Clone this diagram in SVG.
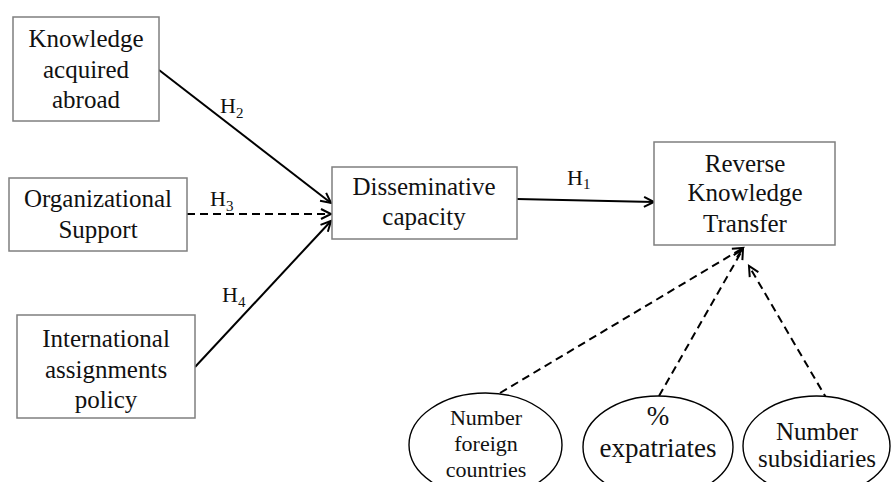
<svg xmlns="http://www.w3.org/2000/svg" width="891" height="482" viewBox="0 0 891 482">
<defs>
<marker id="arr" markerUnits="userSpaceOnUse" markerWidth="14" markerHeight="14" refX="11" refY="6" orient="auto" viewBox="0 0 14 12">
<path d="M1,1 L11,6 L1,11" fill="none" stroke="#000" stroke-width="2"/>
</marker>
</defs>
<style>
.box{fill:#fff;stroke:#7f7f7f;stroke-width:1.5}
.ell{fill:#fff;stroke:#000;stroke-width:1.4}
.t{font-family:"Liberation Serif","Times New Roman",serif;font-size:25px;fill:#111;text-anchor:middle}
.te{font-family:"Liberation Serif","Times New Roman",serif;font-size:22px;fill:#111;text-anchor:middle}
.tx{font-family:"Liberation Serif","Times New Roman",serif;font-size:27px;fill:#111;text-anchor:middle}
.h{font-family:"Liberation Serif","Times New Roman",serif;font-size:22px;fill:#111}
.s{font-size:15px}
.ln{stroke:#000;stroke-width:2;fill:none}
.dl{stroke:#000;stroke-width:2;fill:none;stroke-dasharray:8 5}
</style>
<g id="connectors">
<line class="ln" x1="159" y1="70" x2="331" y2="203" marker-end="url(#arr)"/>
<line class="dl" x1="187" y1="214" x2="331" y2="214" marker-end="url(#arr)"/>
<line class="ln" x1="195" y1="367" x2="331" y2="221" marker-end="url(#arr)"/>
<line class="ln" x1="517" y1="199" x2="654" y2="202" marker-end="url(#arr)"/>
<line class="dl" x1="500" y1="393" x2="743" y2="248" marker-end="url(#arr)"/>
<line class="dl" x1="659" y1="396" x2="743" y2="249" marker-end="url(#arr)"/>
<line class="dl" x1="828" y1="401" x2="749" y2="266" marker-end="url(#arr)"/>
<text class="h" x="220" y="113">H<tspan class="s" dy="5">2</tspan></text>
<text class="h" x="210" y="206">H<tspan class="s" dy="5">3</tspan></text>
<text class="h" x="222" y="302">H<tspan class="s" dy="5">4</tspan></text>
<text class="h" x="567" y="185">H<tspan class="s" dy="4">1</tspan></text>
</g>
<g id="knowledge">
<rect class="box" x="13" y="17" width="146" height="104"/>
<text class="t" x="86" y="47">Knowledge</text>
<text class="t" x="86" y="78">acquired</text>
<text class="t" x="86" y="108">abroad</text>
</g>
<g id="orgsupport">
<rect class="box" x="9" y="178" width="178" height="73"/>
<text class="t" x="98" y="207">Organizational</text>
<text class="t" x="98" y="238">Support</text>
</g>
<g id="intl">
<rect class="box" x="17" y="315" width="178" height="103"/>
<text class="t" x="106" y="347">International</text>
<text class="t" x="106" y="378">assignments</text>
<text class="t" x="106" y="408">policy</text>
</g>
<g id="dissem">
<rect class="box" x="332" y="167" width="185" height="72"/>
<text class="t" x="424" y="195">Disseminative</text>
<text class="t" x="424" y="225">capacity</text>
</g>
<g id="rkt">
<rect class="box" x="654" y="142" width="181" height="103"/>
<text class="t" x="745" y="172">Reverse</text>
<text class="t" x="745" y="201">Knowledge</text>
<text class="t" x="745" y="232">Transfer</text>
</g>
<g id="foreign">
<ellipse class="ell" cx="485.5" cy="445" rx="76.5" ry="52"/>
<text class="te" x="486" y="425">Number</text>
<text class="te" x="486" y="451">foreign</text>
<text class="te" x="486" y="477">countries</text>
</g>
<g id="expat">
<ellipse class="ell" cx="658" cy="447" rx="75" ry="51"/>
<text class="tx" x="658" y="425">%</text>
<text class="tx" x="658" y="457">expatriates</text>
</g>
<g id="subs">
<ellipse class="ell" cx="816.5" cy="446" rx="73.5" ry="50"/>
<text class="t" x="817" y="440">Number</text>
<text class="t" x="817" y="467">subsidiaries</text>
</g>
</svg>
